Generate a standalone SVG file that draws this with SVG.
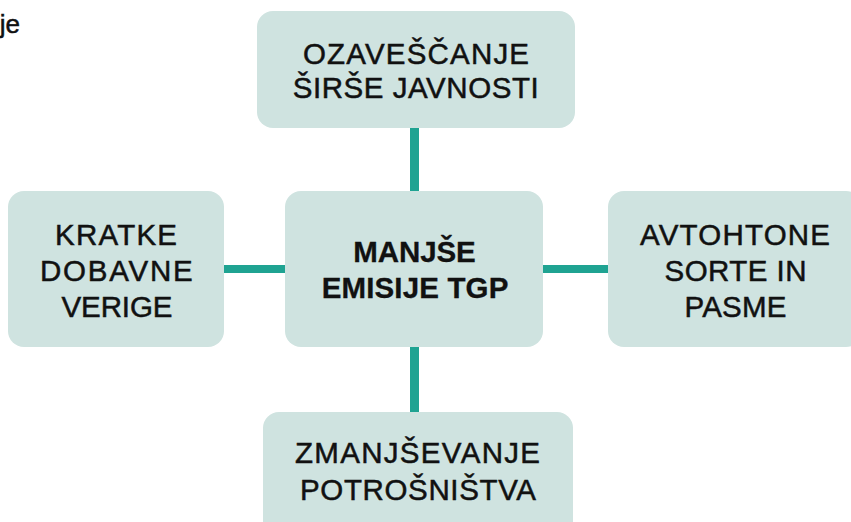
<svg xmlns="http://www.w3.org/2000/svg" width="851" height="522" viewBox="0 0 851 522">
<style>
.box{fill:#cfe3e0}
.t{font-family:"Liberation Sans",Arial,sans-serif;font-size:29.5px;fill:#111;stroke:#111;stroke-width:0.5px;text-anchor:middle}
.b{font-weight:bold;stroke-width:0.3px}
.c{stroke:#1fa392;fill:none}
</style>
<rect width="851" height="522" fill="#ffffff"/>
<text x="20" y="33" style="font-family:'Liberation Sans',Arial,sans-serif;font-size:26px;fill:#111;stroke:#111;stroke-width:0.5px;text-anchor:end">je</text>
<g id="connectors">
<line class="c" x1="414.5" y1="128" x2="414.5" y2="191" stroke-width="9"/>
<line class="c" x1="414.5" y1="347" x2="414.5" y2="412" stroke-width="9"/>
<line class="c" x1="224" y1="269" x2="285" y2="269" stroke-width="8"/>
<line class="c" x1="543" y1="269" x2="608" y2="269" stroke-width="8"/>
</g>
<g id="top">
<rect class="box" x="257" y="11" width="318" height="117" rx="16"/>
<text class="t" x="416" y="64" textLength="226" lengthAdjust="spacing">OZAVEŠČANJE</text>
<text class="t" x="415.7" y="97.5" textLength="246" lengthAdjust="spacing">ŠIRŠE JAVNOSTI</text>
</g>
<g id="left">
<rect class="box" x="8" y="191" width="216" height="156" rx="16"/>
<text class="t" x="116" y="244.5" textLength="122" lengthAdjust="spacing">KRATKE</text>
<text class="t" x="116.3" y="281" textLength="152.7" lengthAdjust="spacing">DOBAVNE</text>
<text class="t" x="117" y="317" textLength="111" lengthAdjust="spacing">VERIGE</text>
</g>
<g id="center">
<rect class="box" x="285" y="191" width="258" height="156" rx="16"/>
<text class="t b" x="414.5" y="261.7" textLength="122.4" lengthAdjust="spacing">MANJŠE</text>
<text class="t b" x="415" y="298.3" textLength="186.7" lengthAdjust="spacing">EMISIJE TGP</text>
</g>
<g id="right">
<rect class="box" x="608" y="191" width="254" height="156" rx="16"/>
<text class="t" x="735" y="245" textLength="190" lengthAdjust="spacing">AVTOHTONE</text>
<text class="t" x="735.5" y="281" textLength="142" lengthAdjust="spacing">SORTE IN</text>
<text class="t" x="735.5" y="316.7" textLength="102" lengthAdjust="spacing">PASME</text>
</g>
<g id="bottom">
<rect class="box" x="263" y="412" width="310" height="130" rx="16"/>
<text class="t" x="417.5" y="463.3" textLength="245" lengthAdjust="spacing">ZMANJŠEVANJE</text>
<text class="t" x="418" y="500" textLength="236" lengthAdjust="spacing">POTROŠNIŠTVA</text>
</g>
</svg>
